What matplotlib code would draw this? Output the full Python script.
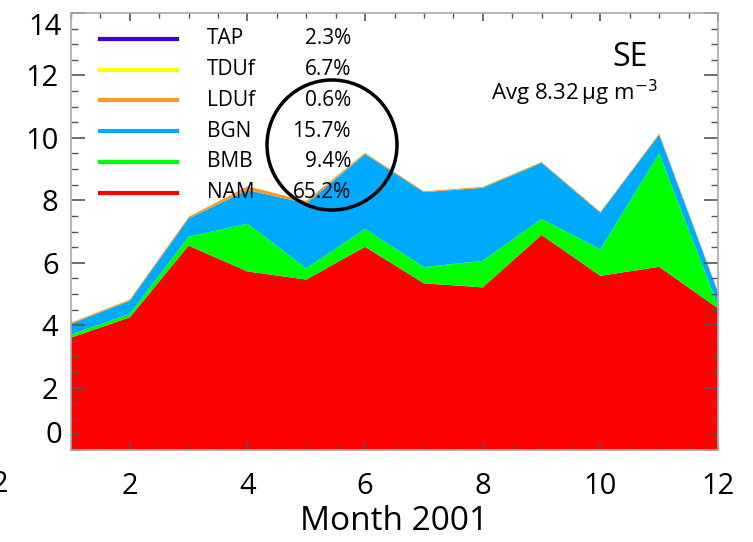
import numpy as np
import matplotlib
matplotlib.use("Agg")
import matplotlib.pyplot as plt
from matplotlib.patches import Ellipse
from matplotlib.ticker import MultipleLocator

plt.rcParams['font.family'] = ['Open Sans', 'DejaVu Sans']

# monthly contributions, ug m-3
months = np.arange(1, 13)
nam = [3.60, 4.25, 6.55, 5.72, 5.46, 6.51, 5.34, 5.21, 6.89, 5.58, 5.87, 4.54]
bmb = [0.10, 0.11, 0.28, 1.53, 0.36, 0.57, 0.52, 0.85, 0.51, 0.85, 3.63, 0.08]
bgn = [0.34, 0.42, 0.59, 1.08, 2.08, 2.40, 2.40, 2.34, 1.80, 1.17, 0.60, 0.43]
lduf = [0.04, 0.04, 0.05, 0.12, 0.08, 0.04, 0.03, 0.03, 0.03, 0.03, 0.04, 0.03]
tduf = [0.0] * 12
tap = [0.0] * 12

names = ['TAP', 'TDUf', 'LDUf', 'BGN', 'BMB', 'NAM']
shares = ['2.3%', '6.7%', '0.6%', '15.7%', '9.4%', '65.2%']
colors = ['#3c00d8', '#ffff00', '#ff9a1e', '#00aaff', '#00ff00', '#ff0000']

yticks = [0, 2, 4, 6, 8, 10, 12, 14]

W, H = 753, 542
fig = plt.figure(figsize=(W / 100, H / 100), dpi=100)
ax = fig.add_axes([71 / W, 1 - 450 / H, (718 - 71) / W, (450 - 13) / H])

ax.stackplot(months, nam, bmb, bgn, lduf, tduf, tap,
             colors=colors[::-1], linewidth=0)

ax.set_xlim(1, 12)
ax.set_ylim(0, 14)
ax.xaxis.set_major_locator(MultipleLocator(2))
ax.xaxis.set_minor_locator(MultipleLocator(0.5))
ax.yaxis.set_minor_locator(MultipleLocator(0.5))
# end labels (0 and 14) are nudged inside the axes, like the original
ax.set_yticks(yticks, [''] + [str(v) for v in yticks[1:-1]] + [''])
ax.tick_params(axis='both', which='both', direction='in', colors='#555555',
               labelcolor='black', top=True, right=True)
ax.tick_params(axis='y', which='major', length=10, width=1.2, labelsize=21, pad=9)
ax.tick_params(axis='y', which='minor', length=5, width=1.0)
ax.tick_params(axis='x', which='major', length=6, width=1.2, labelsize=21, pad=16)
ax.tick_params(axis='x', which='minor', length=3.5, width=1.0)
for s in ax.spines.values():
    s.set_color('#aaaaaa')
    s.set_linewidth(1.2)

ax.text(-9 / W * (W / (718 - 71)), 0.0, str(yticks[0]), transform=ax.transAxes,
        fontsize=21, ha='right', va='bottom')
ax.text(-9 / W * (W / (718 - 71)), 1.0, str(yticks[-1]), transform=ax.transAxes,
        fontsize=21, ha='right', va='top')

ax.set_xlabel('Month 2001', fontsize=24, labelpad=3)
fig.text(8 / W, 1 - 485 / H, '2', fontsize=21, ha='right', va='center')

# legend drawn by hand
for i, (nm, sh, c) in enumerate(zip(names, shares, colors)):
    py = 39 + i * 30.7
    fy = 1 - py / H
    fig.add_artist(plt.Line2D([100 / W, 177 / W], [fy, fy], color=c, lw=3,
                              transform=fig.transFigure))
    fig.text(207 / W, fy, nm, fontsize=15, va='center', ha='left')
    fig.text(351 / W, fy, sh, fontsize=15, va='center', ha='right')

fig.text(630 / W, 1 - 58 / H, 'SE', fontsize=23, ha='center', va='center')
fig.text(658 / W, 1 - 93 / H, r'Avg 8.32$\,$μg m$^{-3}$', fontsize=16,
         ha='right', va='center')

fig.add_artist(Ellipse((332 / W, 1 - 145 / H), 130 / W, 130 / H, fill=False,
                       lw=2.5, color='black', transform=fig.transFigure))

fig.savefig('out.png', dpi=100)
